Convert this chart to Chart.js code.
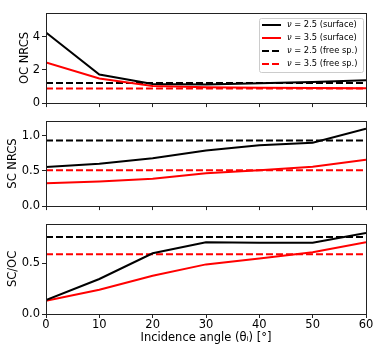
<!DOCTYPE html>
<html>
<head>
<meta charset="utf-8">
<script src="https://cdn.jsdelivr.net/npm/chart.js@4"></script>
<style>
  body { margin: 0; background: #fff; }
  #wrap { position: relative; width: 382px; height: 349px; }
  canvas { position: absolute; left: 0; }
</style>
</head>
<body>
<div id="wrap">
  <canvas id="oc" width="382" height="112" style="top:0"></canvas>
  <canvas id="sc" width="382" height="103" style="top:112px"></canvas>
  <canvas id="ratio" width="382" height="134" style="top:215px"></canvas>
</div>
<script>
// incidence angles (deg)
const angles = [0, 10, 20, 30, 40, 50, 60]
const xTicks = [0, 10, 20, 30, 40, 50, 60]

// OC NRCS
const ocSurf25 = [4.25, 1.72, 1.15, 1.12, 1.20, 1.27, 1.38]
const ocSurf35 = [2.45, 1.48, 1.03, 0.96, 0.93, 0.91, 0.90]
const ocFree = [1.21, 0.88]          // nu=2.5, nu=3.5
const ocTicks = [0, 2, 4]

// SC NRCS
const scSurf25 = [0.557, 0.60, 0.68, 0.79, 0.865, 0.90, 1.10]
const scSurf35 = [0.326, 0.35, 0.39, 0.465, 0.51, 0.56, 0.66]
const scFree = [0.93, 0.51]
const scTicks = [0, 0.5, 1.0]

// SC/OC
const ratioSurf25 = [0.137, 0.346, 0.60, 0.708, 0.705, 0.705, 0.80]
const ratioSurf35 = [0.13, 0.24, 0.378, 0.49, 0.548, 0.61, 0.708]
const ratioFree = [0.76, 0.59]
const ratioTicks = [0, 0.5]

const legendLabels = ["2.5 (surface)", "3.5 (surface)", "2.5 (free sp.)", "3.5 (free sp.)"]

const FONT = "DejaVu Sans"
const FONT_SIZE = 11.5
const BLACK = "#000000"
const RED = "#ff0000"
const DASH = [7, 3]

function points(ys) {
  return angles.map((x, i) => ({ x: x, y: ys[i] }))
}

function flat(y) {
  return [{ x: angles[0], y: y }, { x: angles[angles.length - 1], y: y }]
}

function series(surf25, surf35, free) {
  return [
    { data: points(surf25), borderColor: BLACK, borderWidth: 2 },
    { data: points(surf35), borderColor: RED, borderWidth: 2 },
    { data: flat(free[0]), borderColor: BLACK, borderWidth: 2, borderDash: DASH },
    { data: flat(free[1]), borderColor: RED, borderWidth: 2, borderDash: DASH }
  ]
}

// matplotlib-like frame around the plot area
const framePlugin = {
  id: "frame",
  afterDraw(chart) {
    const a = chart.chartArea
    const ctx = chart.ctx
    ctx.save()
    ctx.strokeStyle = "#222"
    ctx.lineWidth = 1
    ctx.strokeRect(Math.round(a.left) + 0.5, Math.round(a.top) + 0.5,
      Math.round(a.right - a.left), Math.round(a.bottom - a.top))
    ctx.restore()
  }
}

// legend box in the top panel
const legendPlugin = {
  id: "boxLegend",
  afterDraw(chart) {
    if (chart.canvas.id !== "oc") return
    const ctx = chart.ctx
    ctx.save()
    const bx = 259, by = 18, bw = 104, bh = 54
    ctx.fillStyle = "rgba(255,255,255,0.8)"
    ctx.strokeStyle = "#cccccc"
    ctx.lineWidth = 1
    ctx.beginPath()
    ctx.roundRect(bx + 0.5, by + 0.5, bw, bh, 2)
    ctx.fill()
    ctx.stroke()
    chart.data.datasets.forEach((ds, i) => {
      const y = 25 + i * 13
      ctx.strokeStyle = ds.borderColor
      ctx.lineWidth = 2
      ctx.setLineDash(ds.borderDash || [])
      ctx.beginPath()
      ctx.moveTo(262, y)
      ctx.lineTo(281, y)
      ctx.stroke()
      ctx.setLineDash([])
      ctx.fillStyle = "#000"
      ctx.textBaseline = "middle"
      ctx.font = "italic 8.3px '" + FONT + "'"
      ctx.fillText("ν", 287, y)
      const w = ctx.measureText("ν").width
      ctx.font = "8.3px '" + FONT + "'"
      ctx.fillText(" = " + legendLabels[i], 287 + w, y)
    })
    ctx.restore()
  }
}

function makeChart(id, opts) {
  const padLeft = opts.padLeft
  return new Chart(document.getElementById(id), {
    type: "line",
    data: { datasets: opts.datasets },
    options: {
      responsive: false,
      animation: false,
      devicePixelRatio: 1,
      layout: { padding: { left: padLeft, right: 16, top: opts.padTop, bottom: 0 } },
      elements: { point: { radius: 0 }, line: { tension: 0 } },
      plugins: { legend: { display: false }, tooltip: { enabled: false } },
      scales: {
        x: {
          type: "linear",
          min: 0,
          max: 60,
          afterBuildTicks: (s) => { s.ticks = xTicks.map(v => ({ value: v })) },
          afterFit: (s) => { s.height = opts.xHeight },
          grid: { drawOnChartArea: false, drawTicks: true, tickLength: 4, color: "#222", lineWidth: 1 },
          border: { display: false },
          ticks: { display: opts.showX, color: "#000", padding: 0, maxRotation: 0,
            font: { family: FONT, size: FONT_SIZE } },
          title: { display: opts.showX, text: "Incidence angle (θᵢ) [°]", color: "#000",
            padding: { top: 2, bottom: 4 }, font: { family: FONT, size: FONT_SIZE } }
        },
        y: {
          min: 0,
          max: opts.yMax,
          afterBuildTicks: (s) => { s.ticks = opts.yTicks.map(v => ({ value: v })) },
          afterFit: (s) => { s.width = 46 - padLeft },
          grid: { drawOnChartArea: false, drawTicks: true, tickLength: 4, color: "#222", lineWidth: 1 },
          border: { display: false },
          ticks: { color: "#000", padding: 2, font: { family: FONT, size: FONT_SIZE },
            callback: (v) => opts.decimals ? v.toFixed(1) : String(v) },
          title: { display: true, text: opts.yTitle, color: "#000",
            padding: 0, font: { family: FONT, size: FONT_SIZE } }
        }
      }
    },
    plugins: [framePlugin, legendPlugin]
  })
}

makeChart("oc", {
  datasets: series(ocSurf25, ocSurf35, ocFree),
  padLeft: 18, padTop: 13, xHeight: 5, showX: false,
  yMax: 5.43, yTicks: ocTicks, decimals: false, yTitle: "OC NRCS"
})

makeChart("sc", {
  datasets: series(scSurf25, scSurf35, scFree),
  padLeft: 6, padTop: 5, xHeight: 5, showX: false,
  yMax: 1.21, yTicks: scTicks, decimals: true, yTitle: "SC NRCS"
})

makeChart("ratio", {
  datasets: series(ratioSurf25, ratioSurf35, ratioFree),
  padLeft: 6, padTop: 7, xHeight: 35, showX: true,
  yMax: 0.89, yTicks: ratioTicks, decimals: true, yTitle: "SC/OC"
})
</script>
</body>
</html>
